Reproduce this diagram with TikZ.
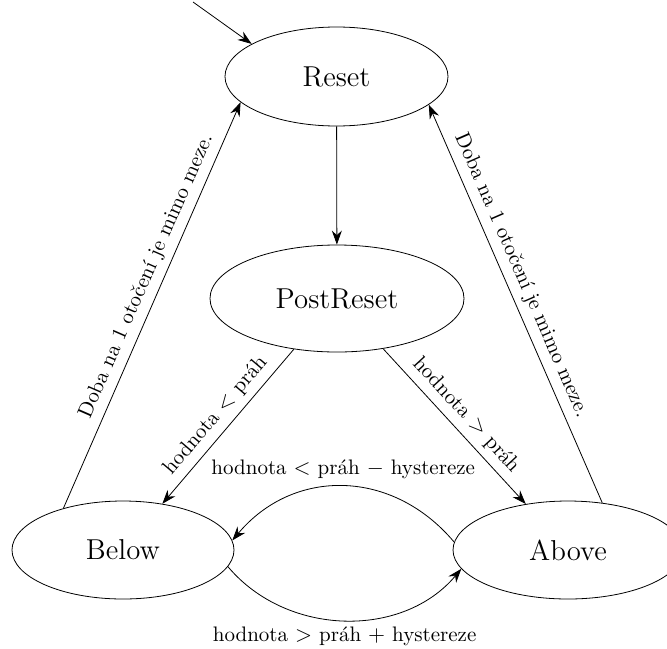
\documentclass[tikz,border=0pt]{standalone}
\usetikzlibrary{arrows.meta,shapes.geometric}
\begin{document}
\begin{tikzpicture}[x=0.5pt,y=0.5pt,
  state/.style={draw, ellipse, inner sep=0pt, font=\fontsize{14.4}{17}\selectfont},
  trans/.style={-{Stealth[length=7pt,width=5pt]}},
  lbl/.style={font=\fontsize{10.5}{12.6}\selectfont}]
\useasboundingbox (0,0) rectangle (667,-648);
\node[state, minimum width=111.5pt, minimum height=49.5pt] (reset) at (336.5,-76.5) {Reset};
\node[state, minimum width=127pt, minimum height=53.5pt] (post) at (337,-298.5) {PostReset};
\node[state, minimum width=111pt, minimum height=49pt] (below) at (123,-550) {Below};
\node[state, minimum width=115pt, minimum height=49pt] (above) at (568,-550) {Above};
\coordinate (start) at (193,-2);
\draw[trans] (start) -- (reset.159);
\draw[trans] (reset) -- (post);
\draw[trans] (post) -- node[lbl, above, sloped] {hodnota $<$ práh} (below);
\draw[trans] (post) -- node[lbl, above, sloped] {hodnota $>$ práh} (above);
\draw[trans] (below.145) -- node[lbl, above, sloped, pos=0.555] {Doba na 1 otočení je mimo meze.} (reset.195);
\draw[trans] (above.54) -- node[lbl, above, sloped, pos=0.555] {Doba na 1 otočení je mimo meze.} (reset.343);
\draw[trans] (above.176) to[out=130, in=50, looseness=1.1] node[lbl, above] {hodnota $<$ práh $-$ hystereze} (below.5);
\draw[trans] (below.351) to[out=-50, in=230] node[lbl, below] {hodnota $>$ práh $+$ hystereze} (above.190);
\end{tikzpicture}
\end{document}
